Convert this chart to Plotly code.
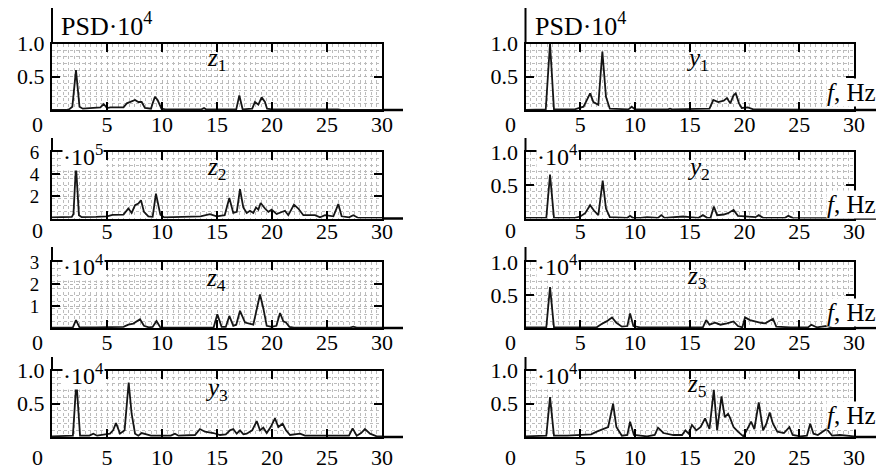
import plotly.graph_objects as go

# ---------------- data ----------------
f_z1 = [0, 1.3, 1.6, 1.85, 2.18, 2.5, 2.8, 4.0, 4.4, 4.7, 5.0, 5.3, 6.5, 6.8, 7.25, 7.55, 7.85, 8.15, 8.45, 9.0,
        9.15, 9.36, 9.6, 9.95, 10.3, 13.6, 13.82, 14.0, 16.75, 17.03, 17.33, 18.2, 18.45, 18.76, 19.06, 19.36,
        19.55, 20.0, 26.0, 26.3, 30]
p_z1 = [0.0, 0.0, 0.015, 0.05, 0.6, 0.05, 0.02, 0.03, 0.04, 0.09, 0.03, 0.04, 0.04, 0.1, 0.13, 0.15, 0.12, 0.12,
        0.03, 0.02, 0.1, 0.2, 0.15, 0.02, 0.01, 0.01, 0.03, 0.01, 0.01, 0.22, 0.01, 0.02, 0.12, 0.08, 0.19, 0.12,
        0.02, 0.01, 0.01, 0.0, 0.0]

f_z2 = [0, 1.0, 1.8, 1.95, 2.18, 2.45, 2.7, 4.0, 5.0, 5.5, 6.5, 6.94, 7.24, 7.55, 7.85, 8.09, 8.36, 8.76, 9.15,
        9.45, 9.85, 10.2, 12.0, 13.5, 14.36, 14.97, 15.7, 16.12, 16.48, 16.8, 17.09, 17.39, 17.7, 18.0, 18.3,
        18.55, 18.76, 18.97, 19.36, 19.67, 19.97, 20.42, 21.18, 21.48, 22.0, 22.39, 22.85, 23.91, 24.36, 24.82,
        25.58, 26.03, 26.33, 27.0, 27.39, 27.85, 30]
p_z2 = [0.1, 0.15, 0.15, 0.4, 4.75, 0.3, 0.12, 0.15, 0.2, 0.33, 0.35, 0.9, 0.5, 1.2, 1.35, 1.65, 0.6, 0.2, 0.15,
        2.25, 0.35, 0.1, 0.15, 0.2, 0.4, 0.2, 0.3, 1.85, 0.5, 0.6, 2.65, 1.0, 0.5, 0.7, 0.5, 1.0, 0.8, 1.4, 0.9,
        0.6, 0.8, 0.4, 0.7, 0.3, 1.25, 0.9, 0.3, 0.3, 0.1, 0.3, 0.2, 1.3, 0.2, 0.1, 0.3, 0.05, 0.05]

f_z4 = [0, 1.9, 2.18, 2.5, 4.0, 6.5, 6.94, 7.39, 8.0, 8.36, 8.8, 9.15, 9.5, 9.85, 12.0, 14.7, 15.03, 15.42, 15.8,
        16.12, 16.48, 16.75, 17.09, 17.55, 18.3, 18.91, 19.21, 19.52, 19.97, 20.4, 20.73, 21.03, 21.27, 21.58,
        22.0, 25.0, 27.1, 27.39, 27.7, 30]
p_z4 = [0.02, 0.03, 0.36, 0.03, 0.03, 0.05, 0.15, 0.2, 0.4, 0.1, 0.03, 0.05, 0.32, 0.03, 0.02, 0.03, 0.62, 0.05,
        0.05, 0.55, 0.1, 0.15, 0.78, 0.25, 0.15, 1.52, 0.9, 0.1, 0.05, 0.1, 0.68, 0.3, 0.25, 0.05, 0.02, 0.02,
        0.02, 0.06, 0.02, 0.02]

f_y3 = [0, 1.9, 2.22, 2.55, 3.4, 3.76, 4.1, 5.27, 5.55, 5.82, 6.18, 6.6, 6.97, 7.24, 7.55, 7.85, 8.15, 8.6, 9.0,
        10.8, 11.18, 11.5, 13.0, 13.45, 13.9, 14.67, 15.27, 15.8, 16.18, 16.48, 16.79, 17.09, 17.4, 17.7, 18.2,
        18.61, 18.91, 19.21, 19.52, 19.88, 20.27, 20.58, 20.97, 21.27, 21.64, 22.55, 23.0, 27.0, 27.33, 27.7,
        28.1, 28.45, 28.91, 29.52, 30]
p_y3 = [0.01, 0.02, 0.84, 0.02, 0.02, 0.05, 0.02, 0.05, 0.1, 0.21, 0.05, 0.1, 0.82, 0.35, 0.05, 0.02, 0.06, 0.04,
        0.02, 0.02, 0.05, 0.02, 0.03, 0.12, 0.08, 0.06, 0.03, 0.04, 0.1, 0.12, 0.05, 0.1, 0.04, 0.05, 0.1, 0.24,
        0.1, 0.14, 0.06, 0.15, 0.28, 0.15, 0.2, 0.1, 0.03, 0.05, 0.02, 0.02, 0.13, 0.02, 0.06, 0.12, 0.05, 0.01,
        0.01]

f_y1 = [0, 1.85, 2.24, 2.6, 4.5, 5.0, 5.3, 5.6, 5.9, 6.2, 6.65, 7.02, 7.35, 7.7, 9.4, 9.7, 10.0, 13.0, 13.2, 13.4,
        16.8, 17.15, 17.6, 18.1, 18.4, 18.7, 19.0, 19.2, 19.5, 19.75, 20.3, 20.8, 30]
p_y1 = [0.0, 0.01, 1.0, 0.01, 0.01, 0.03, 0.05, 0.15, 0.25, 0.12, 0.08, 0.88, 0.2, 0.02, 0.01, 0.05, 0.01, 0.01,
        0.02, 0.01, 0.02, 0.15, 0.12, 0.14, 0.18, 0.1, 0.22, 0.25, 0.1, 0.03, 0.04, 0.01, 0.0]

f_y2 = [0, 1.9, 2.24, 2.6, 4.5, 5.0, 5.45, 5.9, 6.25, 6.65, 7.05, 7.35, 7.7, 9.3, 9.55, 9.8, 10.5, 11.1, 12.1,
        12.4, 12.7, 14.4, 15.0, 15.8, 16.2, 16.6, 16.9, 17.2, 17.5, 18.1, 18.5, 19.0, 19.4, 20.2, 20.65, 21.0,
        21.3, 21.7, 23.7, 24.0, 24.4, 30]
p_y2 = [0.01, 0.01, 0.66, 0.01, 0.01, 0.03, 0.08, 0.2, 0.12, 0.05, 0.57, 0.15, 0.02, 0.01, 0.04, 0.01, 0.01,
        0.02, 0.01, 0.05, 0.01, 0.03, 0.02, 0.01, 0.05, 0.01, 0.01, 0.18, 0.05, 0.06, 0.08, 0.13, 0.04, 0.03,
        0.02, 0.02, 0.05, 0.01, 0.01, 0.04, 0.01, 0.0]

f_z3 = [0, 1.9, 2.24, 2.6, 4.0, 6.5, 6.95, 7.4, 7.9, 8.3, 8.8, 9.3, 9.55, 9.85, 10.45, 15.5, 16.2, 16.5, 16.8,
        17.3, 17.8, 18.4, 19.0, 19.4, 19.8, 20.05, 20.5, 20.95, 21.4, 21.9, 22.2, 22.6, 22.9, 24.2, 25.8, 26.1,
        26.6, 27.5, 28.1, 30]
p_z3 = [0.01, 0.01, 0.62, 0.01, 0.01, 0.01, 0.06, 0.1, 0.16, 0.08, 0.02, 0.03, 0.22, 0.03, 0.01, 0.01, 0.01,
        0.12, 0.05, 0.08, 0.05, 0.07, 0.1, 0.03, 0.01, 0.16, 0.12, 0.1, 0.08, 0.07, 0.1, 0.14, 0.02, 0.01, 0.01,
        0.05, 0.01, 0.03, 0.0, 0.0]

f_z5 = [0, 1.0, 1.9, 2.24, 2.6, 3.8, 5.0, 6.0, 6.5, 7.1, 7.55, 8.0, 8.3, 8.8, 9.3, 9.55, 9.9, 11.1, 11.8, 12.1,
        12.6, 13.5, 14.3, 14.6, 14.9, 15.2, 15.6, 16.0, 16.4, 16.8, 17.2, 17.5, 17.9, 18.2, 18.5, 18.7, 19.0,
        19.4, 19.9, 20.2, 20.6, 20.9, 21.3, 21.7, 22.0, 22.3, 22.6, 23.0, 23.6, 24.1, 24.4, 25.1, 25.7, 26.0,
        26.3, 26.7, 27.5, 28.0, 28.7, 30]
p_z5 = [0.01, 0.02, 0.02, 0.6, 0.02, 0.02, 0.03, 0.04, 0.08, 0.12, 0.15, 0.5, 0.15, 0.02, 0.03, 0.23, 0.03,
        0.01, 0.03, 0.14, 0.06, 0.03, 0.03, 0.1, 0.05, 0.18, 0.1, 0.15, 0.28, 0.12, 0.71, 0.1, 0.61, 0.3, 0.35,
        0.28, 0.15, 0.08, 0.01, 0.1, 0.23, 0.12, 0.52, 0.1, 0.2, 0.37, 0.2, 0.08, 0.06, 0.15, 0.03, 0.01, 0.02,
        0.2, 0.05, 0.03, 0.12, 0.02, 0.03, 0.01]

x_tick_vals = [5, 10, 15, 20, 25, 30]
x_tick_text = ["5", "10", "15", "20", "25", "30"]

# panel definitions: (column, row, f, psd, y-max, ytickvals, yticktext, label, exponent text)
panels = [
    (0, 0, f_z1, p_z1, 1.0, [0.5, 1.0], ["0.5", "1.0"], "<i>z</i><sub>1</sub>", None),
    (0, 1, f_z2, p_z2, 6.0, [2, 4, 6], ["2", "4", "6"], "<i>z</i><sub>2</sub>", "·10<sup>5</sup>"),
    (0, 2, f_z4, p_z4, 3.0, [1, 2, 3], ["1", "2", "3"], "<i>z</i><sub>4</sub>", "·10<sup>4</sup>"),
    (0, 3, f_y3, p_y3, 1.0, [0.5, 1.0], ["0.5", "1.0"], "<i>y</i><sub>3</sub>", "·10<sup>4</sup>"),
    (1, 0, f_y1, p_y1, 1.0, [0.5, 1.0], ["0.5", "1.0"], "<i>y</i><sub>1</sub>", None),
    (1, 1, f_y2, p_y2, 1.0, [0.5, 1.0], ["0.5", "1.0"], "<i>y</i><sub>2</sub>", "·10<sup>4</sup>"),
    (1, 2, f_z3, p_z3, 1.0, [0.5, 1.0], ["0.5", "1.0"], "<i>z</i><sub>3</sub>", "·10<sup>4</sup>"),
    (1, 3, f_z5, p_z5, 1.0, [0.5, 1.0], ["0.5", "1.0"], "<i>z</i><sub>5</sub>", "·10<sup>4</sup>"),
]

# ---------------- layout geometry (pixels) ----------------
W, H = 880, 474
col_x = [(52, 382), (525.5, 854)]
col_axis_end = [403, 876]
row_bottom = [110, 218.5, 328, 437]
row_top = [43.5, 152, 262, 370.5]
row_axis_top = [8, 138, 247, 357]
row_xlabel_standoff = [-6, -8, -6, 0]
col_zero_x = [37, 510]
row_zero_y = [124, 231, 342, 457]
label_pos = {(0, 0): (216, 59), (0, 1): (216, 168), (0, 2): (216, 279), (0, 3): (216, 389),
             (1, 0): (697, 59), (1, 1): (698, 168), (1, 2): (697, 277), (1, 3): (697, 385)}
fhz_y = [93, 205, 312, 415]

FONT = "Liberation Serif, Times New Roman, serif"


def px(x):
    return x / W


def py(y):
    return 1 - y / H


fig = go.Figure()
annotations = []
shapes = []

for i, (c, r, fx, pv, ymax, ytv, ytt, lab, expo) in enumerate(panels):
    n = i + 1
    xa = "x" if n == 1 else f"x{n}"
    ya = "y" if n == 1 else f"y{n}"
    fig.add_trace(go.Scatter(x=fx, y=pv, mode="lines", xaxis=xa, yaxis=ya,
                             line=dict(color="#161616", width=1.8), showlegend=False,
                             hoverinfo="skip"))
    x0, x1 = col_x[c]
    single_digit = ymax != 1.0
    fig.layout[f"xaxis{n}"] = dict(
        domain=[px(x0), px(x1)], anchor=ya, range=[0, 30], automargin=False,
        tickmode="array", tickvals=x_tick_vals, ticktext=x_tick_text,
        ticks="inside", ticklen=8, tickwidth=1.5, tickcolor="black",
        showline=True, linecolor="black", linewidth=2, mirror="ticks",
        showgrid=True, gridcolor="#b4b4b4", griddash="dot", gridwidth=1,
        minor=dict(dtick=0.5, tick0=0, showgrid=True, gridcolor="#bcbcbc", griddash="dot", gridwidth=1),
        zeroline=False, fixedrange=True,
        ticklabelstandoff=row_xlabel_standoff[r],
        tickfont=dict(family=FONT, size=22, color="black"),
    )
    fig.layout[f"yaxis{n}"] = dict(
        domain=[py(row_bottom[r]), py(row_top[r])], anchor=xa, range=[0, ymax], automargin=False,
        tickmode="array", tickvals=ytv, ticktext=ytt,
        ticks="inside", ticklen=8, tickwidth=1.5, tickcolor="black",
        showline=True, linecolor="black", linewidth=2, mirror="ticks",
        showgrid=True, gridcolor="#b4b4b4", griddash="dot", gridwidth=1,
        minor=dict(dtick=ymax / 10, tick0=0, showgrid=True, gridcolor="#bcbcbc", griddash="dot", gridwidth=1),
        zeroline=False, fixedrange=True,
        ticklabelstandoff=7 if single_digit else 1,
        tickfont=dict(family=FONT, size=19 if single_digit else 22, color="black"),
    )
    # extended axis lines
    shapes.append(dict(type="line", xref="paper", yref="paper",
                       x0=px(x1), x1=px(col_axis_end[c]), y0=py(row_bottom[r]), y1=py(row_bottom[r]),
                       line=dict(color="black", width=2.5)))
    shapes.append(dict(type="line", xref="paper", yref="paper",
                       x0=px(x0), x1=px(x0), y0=py(row_top[r]), y1=py(row_axis_top[r]),
                       line=dict(color="black", width=2)))
    # origin "0"
    annotations.append(dict(text="0", xref="paper", yref="paper", x=px(col_zero_x[c]), y=py(row_zero_y[r]),
                            xanchor="center", yanchor="middle", showarrow=False,
                            font=dict(family=FONT, size=22, color="black")))
    # panel label
    lx, ly = label_pos[(c, r)]
    annotations.append(dict(text=lab, xref="paper", yref="paper", x=px(lx), y=py(ly),
                            xanchor="center", yanchor="middle", showarrow=False,
                            font=dict(family=FONT, size=25, color="black")))
    # exponent label
    if expo is not None:
        annotations.append(dict(text=expo, xref="paper", yref="paper", x=px(x0 + 10), y=py(row_top[r] + 3),
                                xanchor="left", yanchor="middle", showarrow=False, bgcolor="white",
                                borderpad=0,
                                font=dict(family=FONT, size=24, color="black")))
    else:
        annotations.append(dict(text="PSD·10<sup>4</sup>", xref="paper", yref="paper", x=px(x0 + 7), y=py(24),
                                xanchor="left", yanchor="middle", showarrow=False,
                                font=dict(family=FONT, size=26, color="black")))
    # f, Hz on right column
    if c == 1:
        annotations.append(dict(text="<i>f</i>, Hz", xref="paper", yref="paper", x=px(877), y=py(fhz_y[r]),
                                xanchor="right", yanchor="middle", showarrow=False, bgcolor="white",
                                borderpad=0,
                                font=dict(family=FONT, size=25, color="black")))

fig.update_layout(
    width=W, height=H, autosize=False,
    margin=dict(l=0, r=0, t=0, b=0, pad=0, autoexpand=False),
    paper_bgcolor="white", plot_bgcolor="white",
    annotations=annotations, shapes=shapes,
    showlegend=False,
)

fig.write_html("out.html", config={"displayModeBar": False, "responsive": False},
               post_script="document.body.style.margin='0';document.body.style.overflow='hidden';")
